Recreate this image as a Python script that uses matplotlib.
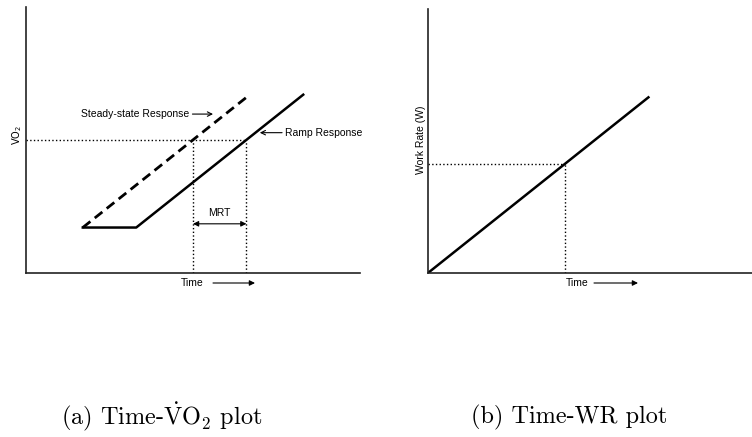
import numpy as np
import matplotlib.pyplot as plt

plt.rcParams["mathtext.fontset"] = "cm"

# left panel: VO2 response to a ramp, time and VO2 in arbitrary units
ss_t = [17, 66]
ss_vo2 = [17, 66]
ramp_t = [17, 33, 83]
ramp_vo2 = [17, 17, 67]
vo2_level = 50

# right panel: work rate ramp
wr_t = [0, 68]
wr_w = [0, 66.5]
wr_level = 41.2

W, H = 752, 437
fig = plt.figure(figsize=(W / 100, H / 100), dpi=100)


def fx(px):
    return px / W


def fy(py):
    return 1 - py / H


def make_axes(x0, x1, y0, y1):
    ax = fig.add_axes([fx(x0), fy(y1), fx(x1) - fx(x0), fy(y0) - fy(y1)])
    ax.set_xlim(0, 100)
    ax.set_ylim(0, 100)
    for s in ("top", "right"):
        ax.spines[s].set_visible(False)
    for s in ("left", "bottom"):
        ax.spines[s].set_linewidth(1.2)
        ax.spines[s].set_color("#222222")
    ax.set_xticks([])
    ax.set_yticks([])
    return ax


lab = dict(family="Liberation Sans", fontsize=7.5)
arr = dict(arrowstyle="->", lw=0.8, color="black", shrinkA=0, shrinkB=0,
           mutation_scale=8)
arr_solid = dict(arrowstyle="-|>", lw=0.8, color="black", shrinkA=0,
                 shrinkB=0, mutation_scale=8)

# ---- (a) Time - VO2
ax1 = make_axes(26, 360, 7, 272.7)
ax1.plot(ss_t, ss_vo2, color="black", lw=2, ls=(0, (3.5, 2)))
ax1.plot(ramp_t, ramp_vo2, color="black", lw=1.8)

t_ss = np.interp(vo2_level, ss_vo2, ss_t)
t_ramp = np.interp(vo2_level, ramp_vo2[1:], ramp_t[1:])
ax1.plot([0, t_ramp], [vo2_level, vo2_level], color="black", lw=1, ls=":")
ax1.plot([t_ss, t_ss], [0, vo2_level], color="black", lw=1, ls=":")
ax1.plot([t_ramp, t_ramp], [0, vo2_level], color="black", lw=1, ls=":")

ax1.annotate("", xy=(t_ss, 18.4), xytext=(t_ramp, 18.4),
             arrowprops=dict(arrowstyle="<|-|>", lw=0.8, color="black",
                             shrinkA=0, shrinkB=0, mutation_scale=8))
ax1.text((t_ss + t_ramp) / 2, 22.5, "MRT", ha="center", va="center", **lab)

ax1.annotate("Steady-state Response", xy=(56, 59.7), xytext=(49, 59.7),
             ha="right", va="center", arrowprops=arr, **lab)
ax1.annotate("Ramp Response", xy=(70, 52.7), xytext=(77.5, 52.7),
             ha="left", va="center", arrowprops=arr, **lab)

fig.text(fx(17), fy(135), r"$\mathrm{VO_2}$", rotation=90, ha="center",
         va="center", fontsize=7, math_fontfamily="dejavusans")
fig.text(fx(192.5), fy(283), "Time", ha="center", va="center", **lab)
fig.add_artist(plt.Annotation("", xy=(fx(255), fy(283)),
                              xytext=(fx(213), fy(283)),
                              xycoords="figure fraction",
                              arrowprops=arr_solid))

# ---- (b) Time - WR
ax2 = make_axes(428.3, 752, 9, 272.7)
ax2.plot(wr_t, wr_w, color="black", lw=1.8)
t_wr = np.interp(wr_level, wr_w, wr_t)
ax2.plot([0, t_wr], [wr_level, wr_level], color="black", lw=1, ls=":")
ax2.plot([t_wr, t_wr], [0, wr_level], color="black", lw=1, ls=":")

fig.text(fx(421), fy(140), "Work Rate (W)", rotation=90, ha="center",
         va="center", **lab)
fig.text(fx(577), fy(283), "Time", ha="center", va="center", **lab)
fig.add_artist(plt.Annotation("", xy=(fx(638), fy(283)),
                              xytext=(fx(594), fy(283)),
                              xycoords="figure fraction",
                              arrowprops=arr_solid))

# captions
cap = dict(family="cmr10", fontsize=17.5, ha="center", va="center")
fig.text(fx(162), fy(417), r"(a) Time-$\dot{\mathrm{V}}\mathrm{O}_2$ plot", **cap)
fig.text(fx(569), fy(417), "(b) Time-WR plot", **cap)

fig.savefig("out.png", dpi=100)
